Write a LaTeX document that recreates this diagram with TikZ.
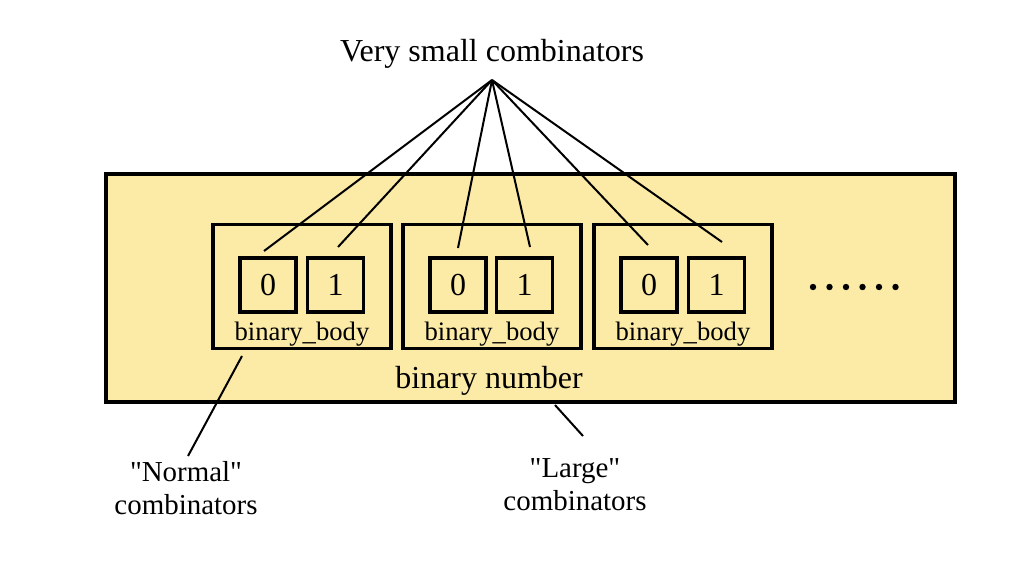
\documentclass[tikz,border=0pt]{standalone}
\usepackage{fontspec}
\setmainfont{Liberation Serif}[Ligatures=TeXOff]
\definecolor{numfill}{RGB}{252,235,166}

\begin{document}
\begin{tikzpicture}[x=0.75pt,y=-0.75pt,
	numbox/.style={draw, fill=numfill, line width=2.6pt, inner sep=0pt, minimum width=637pt, minimum height=171pt},
	bodybox/.style={draw, line width=2.8pt, inner sep=0pt, minimum width=133pt, minimum height=93pt},
	bit/.style={draw, line width=2.8pt, inner sep=0pt, minimum width=42pt, minimum height=40pt, font=\fontsize{24}{29}\selectfont},
	lbl/.style={inner sep=0pt, align=center, font=\fontsize{24}{24.75}\selectfont},
	note/.style={inner sep=0pt, align=center, font=\fontsize{21.7}{24.75}\selectfont},
	small/.style={inner sep=0pt, font=\fontsize{20}{24}\selectfont},
	conn/.style={line width=1.5pt}]
	\useasboundingbox (0,0) rectangle (1024,569);
	
	\node[numbox] (num) at (530.5,288) {};
	\node[lbl] (numtxt) at (489,381) {binary number};
	
	\node[bodybox] (b1) at (302,286.5) {};
	\node[bodybox] (b2) at (492,286.5) {};
	\node[bodybox] (b3) at (683,286.5) {};
	\node[bit] (z1) at (268,285) {0};
	\node[bit] (o1) at (335.5,285) {1};
	\node[bit] (z2) at (458,285) {0};
	\node[bit] (o2) at (524.5,285) {1};
	\node[bit] (z3) at (649,285) {0};
	\node[bit] (o3) at (716.5,285) {1};
	\node[small] (t1) at (302,334) {binary\_body};
	\node[small] (t2) at (492,334) {binary\_body};
	\node[small] (t3) at (683,334) {binary\_body};
	\fill (813,287) circle (3.2) (829.5,287) circle (3.2) (846,287) circle (3.2)
		(862.5,287) circle (3.2) (879,287) circle (3.2) (895.5,287) circle (3.2);
	
	\node[lbl] (vs) at (492,54) {Very small combinators};
	\node[note] (nc) at (186,488) {"Normal"\\combinators};
	\node[note] (lc) at (575,485) {"Large"\\combinators};
	
	\coordinate (apex) at (492,80);
	\coordinate (e1) at (264,251);
	\coordinate (e2) at (338,247);
	\coordinate (e3) at (458,248);
	\coordinate (e4) at (530,247);
	\coordinate (e5) at (648,245);
	\coordinate (e6) at (722,242);
	\coordinate (n1) at (242,356);
	\coordinate (n2) at (188,456);
	\coordinate (l1) at (555,405);
	\coordinate (l2) at (583,436);
	
	\draw[conn] (apex) -- (e1);
	\draw[conn] (apex) -- (e2);
	\draw[conn] (apex) -- (e3);
	\draw[conn] (apex) -- (e4);
	\draw[conn] (apex) -- (e5);
	\draw[conn] (apex) -- (e6);
	\draw[conn] (n1) -- (n2);
	\draw[conn] (l1) -- (l2);
\end{tikzpicture}
\end{document}
